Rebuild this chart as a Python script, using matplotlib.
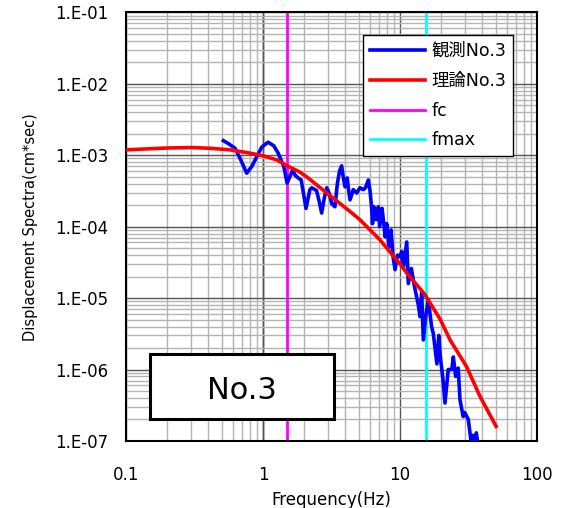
import numpy as np
import matplotlib
matplotlib.use("Agg")
import matplotlib.pyplot as plt
import matplotlib.ticker as mticker
from matplotlib.patches import Rectangle

plt.rcParams['font.family'] = ['DejaVu Sans', 'Noto Sans CJK JP']

# observed displacement spectrum (No.3)
obs_f = [0.513, 0.56, 0.625, 0.69, 0.76, 0.83, 0.90, 0.98, 1.09, 1.2, 1.29, 1.42, 1.5,
         1.57, 1.65, 1.72, 1.81, 1.9, 1.97, 2.06, 2.2, 2.27, 2.46, 2.58, 2.68, 2.8, 2.92,
         3.05, 3.17, 3.35, 3.49, 3.62, 3.75, 3.85, 3.97, 4.12, 4.22, 4.32, 4.56, 4.83,
         5.1, 5.4, 5.6, 5.87, 6.04, 6.2, 6.3, 6.45, 6.7, 6.95, 7.1, 7.4, 7.8, 8.0, 8.3,
         8.6, 8.9, 9.2, 9.6, 10.0, 10.3, 10.6, 11.2, 11.5, 12.1, 12.8, 13.6, 14.0, 14.4,
         14.8, 15.5, 16.1, 17.0, 17.5, 18.6, 19.2, 19.7, 20.6, 21.3, 22.5, 23.9, 24.5,
         25.5, 26.6, 27.4, 28.9, 29.7, 31.5, 33.0, 34.0, 35.0, 36.1, 37.0]
obs_a = [1.6e-3, 1.45e-3, 1.25e-3, 8.5e-4, 5.6e-4, 7.0e-4, 9.5e-4, 1.3e-3, 1.52e-3, 1.35e-3,
         1.07e-3, 6.9e-4, 4.06e-4, 5.0e-4, 6.2e-4, 5.2e-4, 4.8e-4, 4.5e-4, 3.0e-4, 1.8e-4,
         3.3e-4, 3.5e-4, 3.2e-4, 2.2e-4, 1.55e-4, 2.5e-4, 3.5e-4, 2.9e-4, 2.1e-4, 1.9e-4,
         4.0e-4, 6.0e-4, 7.1e-4, 5.0e-4, 3.6e-4, 4.8e-4, 3.2e-4, 2.37e-4, 3.3e-4, 2.95e-4,
         3.5e-4, 3.3e-4, 3.5e-4, 4.5e-4, 3.2e-4, 1.9e-4, 1.1e-4, 1.9e-4, 1.25e-4, 1.9e-4,
         1.0e-4, 1.8e-4, 7.2e-5, 1.1e-4, 5.2e-5, 9.0e-5, 3.8e-5, 2.5e-5, 4.0e-5, 3.8e-5,
         4.5e-5, 2.7e-5, 6.1e-5, 1.6e-5, 2.6e-5, 1.4e-5, 8.1e-6, 5.5e-6, 1.2e-5, 2.6e-6,
         6.0e-6, 9.5e-6, 4.0e-6, 3.2e-6, 1.2e-6, 3.0e-6, 1.5e-6, 7.2e-7, 3.4e-7, 1.0e-6,
         1.0e-6, 1.5e-6, 8.0e-7, 1.05e-6, 3.8e-7, 2.2e-7, 2.5e-7, 2.0e-7, 1.0e-7, 1.2e-7,
         9.0e-8, 1.3e-7, 9.0e-8]

# theoretical spectrum (No.3)
th_f = [0.1, 0.2, 0.3, 0.41, 0.57, 0.8, 1.0, 1.26, 1.5, 1.86, 2.2, 2.46, 3.26, 4.32, 5.1,
        7.1, 8.4, 10.0, 11.2, 15.2, 19.7, 23.2, 30.6, 38.4, 50.3]
th_a = [1.19e-3, 1.26e-3, 1.28e-3, 1.25e-3, 1.19e-3, 1.07e-3, 9.8e-4, 8.6e-4, 7.1e-4, 5.8e-4,
        4.6e-4, 3.85e-4, 2.5e-4, 1.63e-4, 1.25e-4, 6.6e-5, 4.5e-5, 3.0e-5, 2.25e-5, 1.12e-5,
        5.0e-6, 2.6e-6, 1.1e-6, 4.2e-7, 1.6e-7]

fc = 1.5
fmax = 15.5

xticks = [0.1, 1, 10, 100]
xtick_labels = ['0.1', '1', '10', '100']
yticks = [1e-7, 1e-6, 1e-5, 1e-4, 1e-3, 1e-2, 1e-1]
ytick_labels = ['1.E-07', '1.E-06', '1.E-05', '1.E-04', '1.E-03', '1.E-02', '1.E-01']

fig = plt.figure(figsize=(5.63, 5.08), dpi=100)
ax = fig.add_axes([0.2238, 0.1319, 0.73, 0.8439])
ax.set_xscale('log')
ax.set_yscale('log')
ax.set_xlim(0.1, 100)
ax.set_ylim(1e-7, 1e-1)

ax.set_xticks(xticks, xtick_labels)
ax.set_yticks(yticks, ytick_labels)
ax.xaxis.set_minor_locator(mticker.LogLocator(base=10, subs=np.arange(2, 10)))
ax.yaxis.set_minor_locator(mticker.LogLocator(base=10, subs=np.arange(2, 10), numticks=20))
ax.xaxis.set_minor_formatter(mticker.NullFormatter())
ax.yaxis.set_minor_formatter(mticker.NullFormatter())
ax.grid(which='minor', color='#b4b4b4', lw=1.0)
ax.grid(which='major', color='#555555', lw=1.0)
ax.tick_params(which='both', length=0, labelsize=12)
ax.tick_params(axis='y', pad=13)
ax.tick_params(axis='x', pad=18)
ax.set_axisbelow(True)
ax.axvline(1, color='black', lw=1.0, zorder=0.5)
for s in ax.spines.values():
    s.set_linewidth(1.5)

ax.plot(obs_f, obs_a, color='#0000ff', lw=2.6, label='観測No.3', zorder=3)
ax.plot(th_f, th_a, color='#ff0000', lw=2.6, label='理論No.3', zorder=4)
ax.axvline(fc, color='#ff00ff', lw=2.0, label='fc', zorder=2)
ax.axvline(fmax, color='#00ffff', lw=2.0, label='fmax', zorder=2)

leg = ax.legend(loc='upper left', bbox_to_anchor=(0.555, 0.967), fontsize=12.5,
                frameon=True, fancybox=False, edgecolor='black', framealpha=1,
                handlelength=3.2, borderpad=0.4, labelspacing=0.68, handletextpad=0.35)
leg.get_frame().set_linewidth(1.0)

ax.add_patch(Rectangle((0.058, 0.051), 0.447, 0.151, transform=ax.transAxes,
                       facecolor='white', edgecolor='black', lw=2.2, zorder=5))
ax.text(0.281, 0.118, 'No.3', transform=ax.transAxes, ha='center', va='center',
        fontsize=22, zorder=6)

ax.set_xlabel('Frequency(Hz)', fontsize=12)
ax.set_ylabel('Displacement Spectra(cm*sec)', fontsize=10.5)
ax.xaxis.set_label_coords(0.5, -0.117)
ax.yaxis.set_label_coords(-0.214, 0.5)

fig.savefig('out.png', dpi=100)
